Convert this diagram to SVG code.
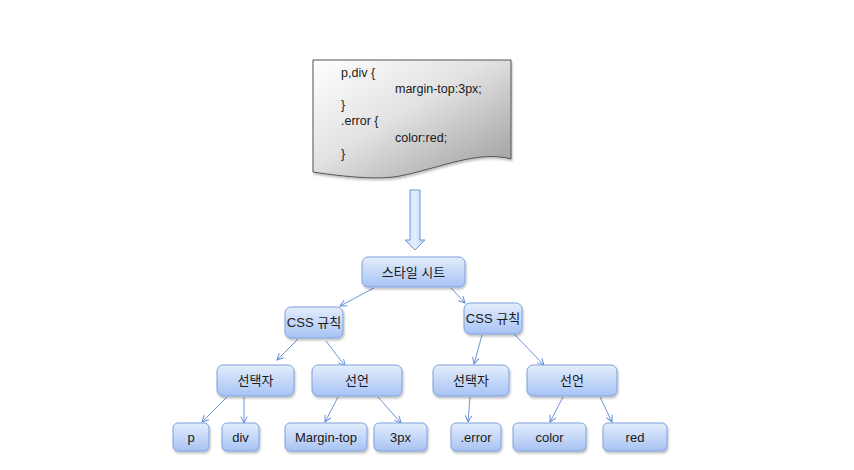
<svg xmlns="http://www.w3.org/2000/svg" width="854" height="470" viewBox="0 0 854 470">
<defs>
<linearGradient id="docg" x1="0" y1="0" x2="1" y2="1">
<stop offset="0" stop-color="#ffffff"/>
<stop offset="0.45" stop-color="#e2e2e2"/>
<stop offset="1" stop-color="#9a9a9a"/>
</linearGradient>
<linearGradient id="nodeg" x1="0" y1="0" x2="0" y2="1">
<stop offset="0" stop-color="#e4edfc"/>
<stop offset="1" stop-color="#a7c3f4"/>
</linearGradient>
<linearGradient id="arrg" x1="0" y1="0" x2="1" y2="0">
<stop offset="0" stop-color="#c9dafa"/>
<stop offset="0.5" stop-color="#e6eefd"/>
<stop offset="1" stop-color="#b4cbf6"/>
</linearGradient>
<filter id="sh" x="-10%" y="-10%" width="130%" height="140%">
<feDropShadow dx="1" dy="2" stdDeviation="1.2" flood-color="#000" flood-opacity="0.25"/>
</filter>
<marker id="ah" viewBox="0 0 10 10" refX="9" refY="5" markerWidth="8" markerHeight="8" orient="auto" markerUnits="userSpaceOnUse">
<path d="M1,1 L9,5 L1,9" fill="none" stroke="#5d8ad6" stroke-width="1.2"/>
</marker>
</defs>
<style>
.node rect { fill: url(#nodeg); stroke: #7ea1dc; stroke-width: 1; filter: url(#sh); }
.node text { font-family: "Liberation Sans", "Noto Sans CJK KR", sans-serif; font-size: 13px; fill: #1a1a1a; text-anchor: middle; dominant-baseline: central; }
.code { font-family: "Liberation Sans", sans-serif; font-size: 12.5px; fill: #1a1a1a; }
#connectors line { stroke: #5d8ad6; stroke-width: 0.9; marker-end: url(#ah); }
</style>
<rect width="854" height="470" fill="#ffffff"/>
<g id="document">
<path d="M313,60 H511 V159 C478,150 440,168 400,176 C380,180 345,177 313,172 Z" fill="url(#docg)" stroke="#555" stroke-width="1" filter="url(#sh)"/>
<text class="code" x="341" y="77">p,div {</text>
<text class="code" x="395" y="93">margin-top:3px;</text>
<text class="code" x="341" y="109">}</text>
<text class="code" x="341" y="125">.error {</text>
<text class="code" x="395" y="142">color:red;</text>
<text class="code" x="341" y="158">}</text>
</g>
<g id="down-arrow">
<path d="M410,190 H420 V240 H425 L415,250 L405,240 H410 Z" fill="url(#arrg)" stroke="#6f97dc" stroke-width="1"/>
</g>
<g id="connectors">
<line x1="374" y1="288" x2="340" y2="306"/>
<line x1="451" y1="288" x2="465" y2="303"/>
<line x1="298" y1="339" x2="277" y2="360"/>
<line x1="326" y1="341" x2="345" y2="366"/>
<line x1="482" y1="335" x2="474" y2="364"/>
<line x1="514" y1="334" x2="544" y2="365"/>
<line x1="227" y1="397" x2="202" y2="422"/>
<line x1="244" y1="397" x2="244" y2="423"/>
<line x1="338" y1="397" x2="325" y2="422"/>
<line x1="378" y1="397" x2="401" y2="423"/>
<line x1="470" y1="397" x2="468" y2="422"/>
<line x1="563" y1="397" x2="550" y2="422"/>
<line x1="600" y1="397" x2="612" y2="422"/>
</g>
<g id="stylesheet" class="node"><rect x="362" y="257" width="103" height="30" rx="6"/><text x="413.5" y="272">스타일 시트</text></g>
<g id="rule-left" class="node"><rect x="285" y="307" width="58" height="31" rx="6"/><text x="314" y="322.5">CSS 규칙</text></g>
<g id="rule-right" class="node"><rect x="464" y="303" width="58" height="31" rx="6"/><text x="493" y="318.5">CSS 규칙</text></g>
<g id="selector-left" class="node"><rect x="217" y="365" width="77" height="31" rx="6"/><text x="255.5" y="380.5">선택자</text></g>
<g id="decl-left" class="node"><rect x="312" y="365" width="90" height="31" rx="6"/><text x="357" y="380.5">선언</text></g>
<g id="selector-right" class="node"><rect x="433" y="365" width="76" height="31" rx="6"/><text x="471" y="380.5">선택자</text></g>
<g id="decl-right" class="node"><rect x="527" y="365" width="90" height="31" rx="6"/><text x="572" y="380.5">선언</text></g>
<g id="p" class="node"><rect x="173" y="423" width="36" height="28" rx="5"/><text x="191" y="437">p</text></g>
<g id="div" class="node"><rect x="222" y="423" width="37" height="28" rx="5"/><text x="240.5" y="437">div</text></g>
<g id="margin-top" class="node"><rect x="285" y="423" width="82" height="28" rx="5"/><text x="326" y="437">Margin-top</text></g>
<g id="px3" class="node"><rect x="374" y="423" width="53" height="28" rx="5"/><text x="400.5" y="437">3px</text></g>
<g id="error" class="node"><rect x="451" y="423" width="50" height="28" rx="5"/><text x="476" y="437">.error</text></g>
<g id="color" class="node"><rect x="513" y="423" width="73" height="28" rx="5"/><text x="549.5" y="437">color</text></g>
<g id="red" class="node"><rect x="603" y="423" width="64" height="28" rx="5"/><text x="635" y="437">red</text></g>
</svg>
